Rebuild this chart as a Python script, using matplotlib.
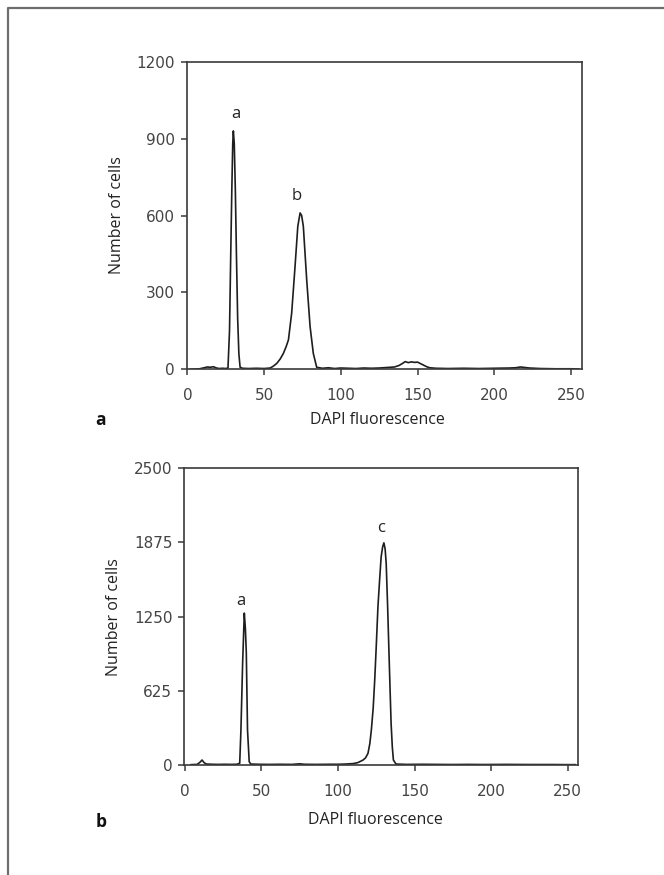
import matplotlib
matplotlib.use("Agg")
import matplotlib.pyplot as plt
from matplotlib.lines import Line2D

# Histogramme a : valeurs
a_dapi = [2, 8, 11, 13, 15, 17, 19, 21, 23, 25, 26.5, 27.5, 28.3, 29.0, 29.6, 30.0,
          30.6, 31.3, 32.0, 32.8, 33.6, 34.4, 36, 40, 45, 50, 54, 56, 58.3, 60.5,
          62.6, 64.5, 65.9, 68, 70.2, 72, 73.5, 74.5, 75.6, 77.8, 80, 82.1, 84.3,
          88, 92, 96, 100, 105, 110, 115, 120, 125, 130, 135, 138, 140, 142, 144,
          146, 148, 150, 152, 154, 156, 158, 162, 170, 180, 190, 200, 210, 214,
          217, 220, 223, 230, 240, 250, 255]
a_cells = [0, 2, 6, 9, 8, 10, 5, 3, 4, 3, 5, 150, 450, 700, 880, 930,
           880, 700, 450, 200, 60, 8, 4, 3, 4, 3, 5, 12, 23, 40,
           62, 90, 115, 219, 401, 558, 610, 600, 558, 349, 167, 62, 8,
           4, 6, 3, 5, 4, 3, 5, 4, 5, 7, 9, 15, 22, 30, 26,
           29, 27, 28, 22, 16, 10, 6, 4, 3, 4, 3, 4, 5, 6,
           9, 7, 5, 3, 2, 2, 1]

# Histogramme b
b_dapi = [4, 8, 10, 11.2, 12.5, 14, 18, 22, 26, 30, 34, 35.8, 36.6, 37.7, 38.8,
          39.5, 40.1, 40.9, 42, 43, 48, 55, 62, 70, 75, 78, 85, 95, 100, 105,
          110, 113, 116.4, 118, 119.6, 120.8, 121.8, 123, 124, 125, 126.1, 127.2,
          128.2, 129.2, 130, 130.8, 131.5, 132.4, 133.2, 134, 134.7, 135.5, 136.2,
          137.9, 145, 155, 165, 175, 185, 195, 210, 225, 240, 250, 255]
b_cells = [3, 5, 25, 42, 20, 8, 6, 5, 6, 5, 6, 15, 295, 856, 1280,
           1150, 950, 295, 28, 8, 6, 5, 6, 5, 10, 6, 5, 6, 6, 8,
           12, 20, 42, 60, 98, 180, 295, 480, 716, 1000, 1333, 1560,
           1754, 1840, 1872, 1820, 1698, 1350, 996, 650, 351, 150, 42,
           8, 5, 6, 5, 4, 5, 4, 5, 4, 4, 3, 3]

x_ticks = [0, 50, 100, 150, 200, 250]
a_yticks = [0, 300, 600, 900, 1200]
b_yticks = [0, 625, 1250, 1875, 2500]

a_peaks = [("a", 31.6, 995), ("b", 71.3, 675)]
b_peaks = [("a", 36.4, 1383), ("c", 128.2, 2001)]

W, H = 664, 875
fig = plt.figure(figsize=(W / 100, H / 100), dpi=100)
fig.patch.set_facecolor("white")

# cadre gris ouvert à droite et en bas
fig.add_artist(Line2D([8 / W, 8 / W, 1], [0, 1 - 7.5 / H, 1 - 7.5 / H],
                      transform=fig.transFigure, color="#6e6e6e", lw=1.6))

label_font = "Open Sans"
tick_font = "DejaVu Sans"


def px_axes(left, top, right, bottom):
    return fig.add_axes([left / W, 1 - bottom / H, (right - left) / W, (bottom - top) / H])


def style(ax, yticks, ymax, xy_xlabel, xy_ylabel):
    ax.set_xlim(-0.4, 257)
    ax.set_ylim(0, ymax)
    ax.set_xticks(x_ticks)
    ax.set_yticks(yticks)
    for s in ax.spines.values():
        s.set_color("#3a3a3a")
        s.set_linewidth(1.2)
    ax.tick_params(direction="out", length=4.3, width=1.1, color="#3a3a3a",
                   labelcolor="#444444", labelsize=11)
    ax.tick_params(axis="x", pad=9.5)
    ax.tick_params(axis="y", pad=4.3)
    for lab in ax.get_xticklabels() + ax.get_yticklabels():
        lab.set_family(tick_font)
    ax.set_xlabel("DAPI fluorescence", family=label_font, fontsize=11.5,
                  color="#222222", va="center")
    ax.set_ylabel("Number of cells", family=label_font, fontsize=11.5,
                  color="#222222", va="center")
    ax.xaxis.set_label_coords(*xy_xlabel)
    ax.yaxis.set_label_coords(*xy_ylabel)


ax1 = px_axes(186.7, 61.7, 581.7, 369.3)
ax1.plot(a_dapi, a_cells, color="#1e1e1e", lw=1.2)
style(ax1, a_yticks, 1200, (0.482, -0.165), (-0.176, 0.5))
for txt, x, y in a_peaks:
    ax1.text(x, y, txt, ha="center", va="center", family=label_font,
             fontsize=12, color="#222222")

ax2 = px_axes(184.3, 468.3, 578.3, 765)
ax2.plot(b_dapi, b_cells, color="#1e1e1e", lw=1.2)
style(ax2, b_yticks, 2500, (0.486, -0.185), (-0.178, 0.5))
for txt, x, y in b_peaks:
    ax2.text(x, y, txt, ha="center", va="center", family=label_font,
             fontsize=12, color="#222222")

# lettres des panneaux
fig.text(101 / W, 1 - 420 / H, "a", family=label_font, fontweight="bold",
         fontsize=12.5, ha="center", va="center", color="#111111")
fig.text(101 / W, 1 - 822 / H, "b", family=label_font, fontweight="bold",
         fontsize=12.5, ha="center", va="center", color="#111111")

fig.savefig("out.png", dpi=100, facecolor="white")
